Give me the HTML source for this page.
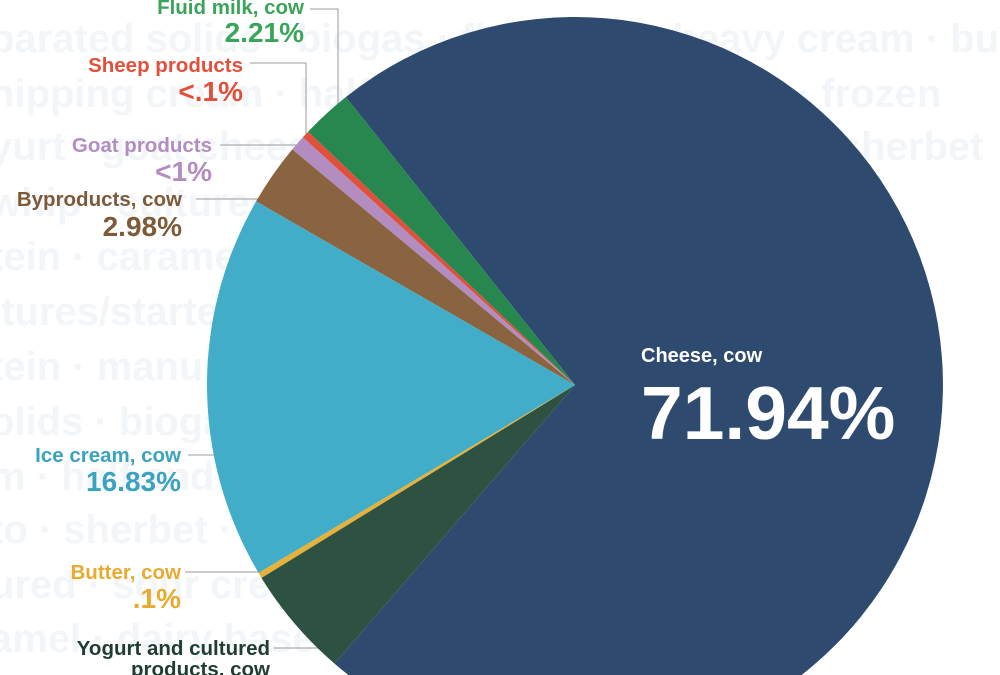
<!DOCTYPE html>
<html><head><style>
body{margin:0;width:1000px;height:675px;overflow:hidden;background:#fff;font-family:"Liberation Sans",sans-serif}
svg{display:block}
</style></head><body>
<svg width="1000" height="675" viewBox="0 0 1000 675">
<g font-family="Liberation Sans, sans-serif" font-weight="bold" font-size="40" fill="#f2f6f9">
<text x="-10" y="52">parated solids · biogas · fluid milk · heavy cream · buttermilk</text>
<text x="-10" y="107">hipping cream · half and half · sour cream · frozen</text>
<text x="-10" y="160">yurt · goat cheese · sherbet · frozen yogurt · sherbet</text>
<text x="-10" y="216">whip · cultured · cheese · whey · whey</text>
<text x="-10" y="270">tein · caramel · dairy base · dairy</text>
<text x="-10" y="325">ltures/starters · milk protein · fractions</text>
<text x="-10" y="380">tein · manure · separated · separated</text>
<text x="-10" y="435">olids · biogas · fluid milk · whipping</text>
<text x="-10" y="490">m · half and half · frozen yogurt</text>
<text x="-10" y="543">to · sherbet · gelato · sherbet · kefir</text>
<text x="-10" y="598">ured · sour cream · milk protein</text>
<text x="-10" y="652">amel · dairy base · dairy · cultured</text>
</g>
<g stroke="#999" stroke-width="1" fill="none">
<polyline points="310,9 338,9 338,136"/>
<polyline points="250,63 306,63 306,140"/>
<polyline points="220,145 298,145"/>
<polyline points="196,199 262,199"/>
<polyline points="188,455 215,455"/>
<polyline points="185,572 262,572"/>
<polyline points="274,648 320,648"/>
</g>
<path d="M575,385 L345.9,97 A368,368 0 1 1 334.5,663.6 Z" fill="#2e4a6e"/>
<path d="M575,385 L345.9,97 A368,368 0 0 0 308.1,131.7 Z" fill="#27874f"/>
<path d="M575,385 L308.1,131.7 A368,368 0 0 0 302.8,137.3 Z" fill="#e0503a"/>
<path d="M575,385 L302.8,137.3 A368,368 0 0 0 292.3,149.4 Z" fill="#b48dc0"/>
<path d="M575,385 L292.3,149.4 A368,368 0 0 0 256.1,201.4 Z" fill="#8a6440"/>
<path d="M575,385 L256.1,201.4 A368,368 0 0 0 258.6,572.9 Z" fill="#41adc8"/>
<path d="M575,385 L258.6,572.9 A368,368 0 0 0 261.5,578 Z" fill="#e8b23a"/>
<path d="M575,385 L261.5,578 A368,368 0 0 0 334.5,663.6 Z" fill="#2d5242"/>
<g font-family="Liberation Sans, sans-serif" font-weight="bold" text-anchor="end">
<text x="304" y="14" font-size="20.5" fill="#3aa55a">Fluid milk, cow</text>
<text x="304" y="42" font-size="28" fill="#3aa55a">2.21%</text>
<text x="243" y="72" font-size="20.5" fill="#e0503a">Sheep products</text>
<text x="243" y="101" font-size="28" fill="#e0503a">&lt;.1%</text>
<text x="212" y="152" font-size="20.5" fill="#b48dc0">Goat products</text>
<text x="212" y="181" font-size="28" fill="#b48dc0">&lt;1%</text>
<text x="182" y="206" font-size="20.5" fill="#7d5a38">Byproducts, cow</text>
<text x="182" y="236" font-size="28" fill="#7d5a38">2.98%</text>
<text x="181" y="462" font-size="20.5" fill="#3aa3c0">Ice cream, cow</text>
<text x="181" y="491" font-size="28" fill="#3aa3c0">16.83%</text>
<text x="181" y="579" font-size="20.5" fill="#e8ab30">Butter, cow</text>
<text x="181" y="608" font-size="28" fill="#e8ab30">.1%</text>
<text x="270" y="655" font-size="20.5" fill="#1f3d30">Yogurt and cultured</text>
<text x="270" y="676" font-size="20.5" fill="#1f3d30">products, cow</text>
</g>
<g font-family="Liberation Sans, sans-serif" font-weight="bold" fill="#fff">
<text x="641" y="362" font-size="20">Cheese, cow</text>
<text x="641" y="439" font-size="75">71.94%</text>
</g>
</svg>
</body></html>
